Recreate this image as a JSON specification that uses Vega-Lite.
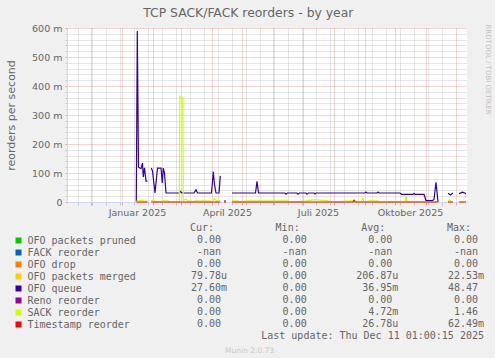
{
  "$schema": "https://vega.github.io/schema/vega-lite/v6.json",
  "background": "#F0F0F0",
  "padding": {"left": 5, "top": 6, "right": 4, "bottom": 4},
  "title": {"text": "TCP SACK/FACK reorders - by year", "font": "DejaVu Sans", "fontSize": 12.4, "fontWeight": "normal", "color": "#666666", "anchor": "middle", "offset": 4},
  "datasets": {
    "series": [
      {"date": "2025-01-15T07:00", "series": "OFO queue", "value": 0},
      {"date": "2025-01-16T07:00", "series": "OFO queue", "value": 0.59},
      {"date": "2025-01-17T12:00", "series": "OFO queue", "value": 0.12},
      {"date": "2025-01-20T00:00", "series": "OFO queue", "value": 0.115},
      {"date": "2025-01-21T12:00", "series": "OFO queue", "value": 0.134},
      {"date": "2025-01-22T07:00", "series": "OFO queue", "value": 0.086},
      {"date": "2025-01-23T12:00", "series": "OFO queue", "value": 0.118},
      {"date": "2025-01-25T00:00", "series": "OFO queue", "value": 0.072},
      {"date": "2025-01-26T12:00", "series": "OFO queue", "value": 0.072},
      {"date": "2025-01-28T07:00", "series": "OFO queue", "value": null},
      {"date": "2025-01-30T07:00", "series": "OFO queue", "value": 0.117},
      {"date": "2025-01-31T12:00", "series": "OFO queue", "value": 0.107},
      {"date": "2025-02-03T00:00", "series": "OFO queue", "value": 0.031},
      {"date": "2025-02-05T12:00", "series": "OFO queue", "value": 0.117},
      {"date": "2025-02-09T00:00", "series": "OFO queue", "value": 0.117},
      {"date": "2025-02-10T07:00", "series": "OFO queue", "value": 0.066},
      {"date": "2025-02-11T07:00", "series": "OFO queue", "value": 0.117},
      {"date": "2025-02-12T12:00", "series": "OFO queue", "value": 0.1},
      {"date": "2025-02-14T00:00", "series": "OFO queue", "value": 0.031},
      {"date": "2025-02-27T00:00", "series": "OFO queue", "value": 0.031},
      {"date": "2025-02-28T12:00", "series": "OFO queue", "value": 0.036},
      {"date": "2025-03-02T00:00", "series": "OFO queue", "value": 0.031},
      {"date": "2025-03-14T00:00", "series": "OFO queue", "value": 0.031},
      {"date": "2025-03-16T00:00", "series": "OFO queue", "value": 0.042},
      {"date": "2025-03-17T12:00", "series": "OFO queue", "value": 0.031},
      {"date": "2025-03-31T12:00", "series": "OFO queue", "value": 0.031},
      {"date": "2025-04-02T07:00", "series": "OFO queue", "value": 0.104},
      {"date": "2025-04-03T12:00", "series": "OFO queue", "value": 0.06},
      {"date": "2025-04-05T00:00", "series": "OFO queue", "value": 0.031},
      {"date": "2025-04-08T00:00", "series": "OFO queue", "value": 0.031},
      {"date": "2025-04-09T07:00", "series": "OFO queue", "value": 0.09},
      {"date": "2025-04-11T00:00", "series": "OFO queue", "value": null},
      {"date": "2025-04-13T00:00", "series": "OFO queue", "value": 0.003},
      {"date": "2025-04-15T00:00", "series": "OFO queue", "value": 0.003},
      {"date": "2025-04-17T00:00", "series": "OFO queue", "value": null},
      {"date": "2025-04-21T00:00", "series": "OFO queue", "value": 0.031},
      {"date": "2025-05-14T12:00", "series": "OFO queue", "value": 0.031},
      {"date": "2025-05-16T00:00", "series": "OFO queue", "value": 0.071},
      {"date": "2025-05-17T12:00", "series": "OFO queue", "value": 0.031},
      {"date": "2025-06-13T00:00", "series": "OFO queue", "value": 0.031},
      {"date": "2025-06-14T00:00", "series": "OFO queue", "value": 0.027},
      {"date": "2025-06-15T12:00", "series": "OFO queue", "value": 0.031},
      {"date": "2025-06-25T00:00", "series": "OFO queue", "value": 0.031},
      {"date": "2025-06-26T00:00", "series": "OFO queue", "value": 0.027},
      {"date": "2025-06-27T12:00", "series": "OFO queue", "value": 0.031},
      {"date": "2025-07-04T00:00", "series": "OFO queue", "value": 0.031},
      {"date": "2025-07-05T00:00", "series": "OFO queue", "value": 0.027},
      {"date": "2025-07-06T12:00", "series": "OFO queue", "value": 0.031},
      {"date": "2025-07-12T00:00", "series": "OFO queue", "value": 0.031},
      {"date": "2025-07-13T00:00", "series": "OFO queue", "value": 0.028},
      {"date": "2025-07-14T00:00", "series": "OFO queue", "value": 0.031},
      {"date": "2025-09-01T00:00", "series": "OFO queue", "value": 0.031},
      {"date": "2025-09-02T00:00", "series": "OFO queue", "value": 0.034},
      {"date": "2025-09-03T00:00", "series": "OFO queue", "value": 0.031},
      {"date": "2025-09-13T00:00", "series": "OFO queue", "value": 0.031},
      {"date": "2025-09-14T00:00", "series": "OFO queue", "value": 0.034},
      {"date": "2025-09-15T00:00", "series": "OFO queue", "value": 0.031},
      {"date": "2025-10-06T00:00", "series": "OFO queue", "value": 0.031},
      {"date": "2025-10-07T12:00", "series": "OFO queue", "value": 0.0265},
      {"date": "2025-10-19T00:00", "series": "OFO queue", "value": 0.0265},
      {"date": "2025-10-20T00:00", "series": "OFO queue", "value": 0.03},
      {"date": "2025-10-21T00:00", "series": "OFO queue", "value": 0.0265},
      {"date": "2025-10-30T00:00", "series": "OFO queue", "value": 0.0265},
      {"date": "2025-11-01T00:00", "series": "OFO queue", "value": 0.005},
      {"date": "2025-11-07T00:00", "series": "OFO queue", "value": 0.005},
      {"date": "2025-11-09T00:00", "series": "OFO queue", "value": 0.008},
      {"date": "2025-11-11T00:00", "series": "OFO queue", "value": 0.068},
      {"date": "2025-11-13T00:00", "series": "OFO queue", "value": 0},
      {"date": "2025-11-15T00:00", "series": "OFO queue", "value": null},
      {"date": "2025-11-23T00:00", "series": "OFO queue", "value": 0.03},
      {"date": "2025-11-25T12:00", "series": "OFO queue", "value": 0.024},
      {"date": "2025-11-28T00:00", "series": "OFO queue", "value": 0.031},
      {"date": "2025-11-30T00:00", "series": "OFO queue", "value": null},
      {"date": "2025-12-04T00:00", "series": "OFO queue", "value": 0.029},
      {"date": "2025-12-07T12:00", "series": "OFO queue", "value": 0.034},
      {"date": "2025-12-11T00:00", "series": "OFO queue", "value": 0.029},

      {"date": "2025-01-15T07:00", "series": "SACK reorder", "value": 0},
      {"date": "2025-01-16T07:00", "series": "SACK reorder", "value": 0.005},
      {"date": "2025-01-21T12:00", "series": "SACK reorder", "value": 0.006},
      {"date": "2025-01-22T12:00", "series": "SACK reorder", "value": 0.003},
      {"date": "2025-01-26T12:00", "series": "SACK reorder", "value": 0.003},
      {"date": "2025-01-28T07:00", "series": "SACK reorder", "value": null},
      {"date": "2025-01-30T07:00", "series": "SACK reorder", "value": 0.003},
      {"date": "2025-02-01T00:00", "series": "SACK reorder", "value": 0.008},
      {"date": "2025-02-03T00:00", "series": "SACK reorder", "value": 0.003},
      {"date": "2025-02-08T00:00", "series": "SACK reorder", "value": 0},
      {"date": "2025-02-10T00:00", "series": "SACK reorder", "value": 0.004},
      {"date": "2025-02-16T00:00", "series": "SACK reorder", "value": 0.004},
      {"date": "2025-02-17T00:00", "series": "SACK reorder", "value": 0},
      {"date": "2025-02-27T07:00", "series": "SACK reorder", "value": 0},
      {"date": "2025-02-27T19:00", "series": "SACK reorder", "value": 0.364},
      {"date": "2025-03-01T12:00", "series": "SACK reorder", "value": 0.355},
      {"date": "2025-03-02T17:00", "series": "SACK reorder", "value": 0.36},
      {"date": "2025-03-03T07:00", "series": "SACK reorder", "value": 0.005},
      {"date": "2025-03-06T00:00", "series": "SACK reorder", "value": 0.01},
      {"date": "2025-03-08T00:00", "series": "SACK reorder", "value": 0.003},
      {"date": "2025-03-12T00:00", "series": "SACK reorder", "value": 0.003},
      {"date": "2025-03-14T00:00", "series": "SACK reorder", "value": 0},
      {"date": "2025-03-15T00:00", "series": "SACK reorder", "value": 0.004},
      {"date": "2025-03-30T00:00", "series": "SACK reorder", "value": 0.004},
      {"date": "2025-03-31T00:00", "series": "SACK reorder", "value": 0},
      {"date": "2025-04-02T00:00", "series": "SACK reorder", "value": 0.004},
      {"date": "2025-04-03T12:00", "series": "SACK reorder", "value": 0.013},
      {"date": "2025-04-05T00:00", "series": "SACK reorder", "value": 0.004},
      {"date": "2025-04-09T07:00", "series": "SACK reorder", "value": 0.004},
      {"date": "2025-04-11T00:00", "series": "SACK reorder", "value": null},
      {"date": "2025-04-13T00:00", "series": "SACK reorder", "value": 0},
      {"date": "2025-04-15T00:00", "series": "SACK reorder", "value": 0},
      {"date": "2025-04-17T00:00", "series": "SACK reorder", "value": null},
      {"date": "2025-04-21T00:00", "series": "SACK reorder", "value": 0.004},
      {"date": "2025-04-27T00:00", "series": "SACK reorder", "value": 0.004},
      {"date": "2025-04-28T00:00", "series": "SACK reorder", "value": 0},
      {"date": "2025-05-06T00:00", "series": "SACK reorder", "value": 0.004},
      {"date": "2025-06-16T00:00", "series": "SACK reorder", "value": 0.004},
      {"date": "2025-06-17T00:00", "series": "SACK reorder", "value": 0},
      {"date": "2025-07-05T00:00", "series": "SACK reorder", "value": 0.004},
      {"date": "2025-07-13T00:00", "series": "SACK reorder", "value": 0.008},
      {"date": "2025-07-26T00:00", "series": "SACK reorder", "value": 0.004},
      {"date": "2025-07-27T00:00", "series": "SACK reorder", "value": 0},
      {"date": "2025-08-18T00:00", "series": "SACK reorder", "value": 0.004},
      {"date": "2025-08-23T00:00", "series": "SACK reorder", "value": 0.004},
      {"date": "2025-08-24T00:00", "series": "SACK reorder", "value": 0},
      {"date": "2025-08-28T00:00", "series": "SACK reorder", "value": 0},
      {"date": "2025-08-29T17:00", "series": "SACK reorder", "value": 0.014},
      {"date": "2025-08-31T00:00", "series": "SACK reorder", "value": 0},
      {"date": "2025-09-05T00:00", "series": "SACK reorder", "value": 0.004},
      {"date": "2025-09-14T00:00", "series": "SACK reorder", "value": 0.004},
      {"date": "2025-09-15T00:00", "series": "SACK reorder", "value": 0},
      {"date": "2025-10-11T00:00", "series": "SACK reorder", "value": 0},
      {"date": "2025-10-12T00:00", "series": "SACK reorder", "value": 0.02},
      {"date": "2025-10-13T00:00", "series": "SACK reorder", "value": 0},
      {"date": "2025-11-13T00:00", "series": "SACK reorder", "value": 0},
      {"date": "2025-11-15T00:00", "series": "SACK reorder", "value": null},
      {"date": "2025-11-23T00:00", "series": "SACK reorder", "value": 0},
      {"date": "2025-11-24T12:00", "series": "SACK reorder", "value": 0.008},
      {"date": "2025-11-26T00:00", "series": "SACK reorder", "value": 0},
      {"date": "2025-11-28T00:00", "series": "SACK reorder", "value": 0},
      {"date": "2025-11-30T00:00", "series": "SACK reorder", "value": null},
      {"date": "2025-12-04T00:00", "series": "SACK reorder", "value": 0},
      {"date": "2025-12-11T00:00", "series": "SACK reorder", "value": 0},

      {"date": "2025-01-15T07:00", "series": "Timestamp reorder", "value": 0},
      {"date": "2025-01-26T12:00", "series": "Timestamp reorder", "value": 0},
      {"date": "2025-01-28T07:00", "series": "Timestamp reorder", "value": null},
      {"date": "2025-01-30T07:00", "series": "Timestamp reorder", "value": 0},
      {"date": "2025-04-09T07:00", "series": "Timestamp reorder", "value": 0},
      {"date": "2025-04-11T00:00", "series": "Timestamp reorder", "value": null},
      {"date": "2025-04-13T00:00", "series": "Timestamp reorder", "value": 0},
      {"date": "2025-04-15T00:00", "series": "Timestamp reorder", "value": 0},
      {"date": "2025-04-17T00:00", "series": "Timestamp reorder", "value": null},
      {"date": "2025-04-21T00:00", "series": "Timestamp reorder", "value": 0},
      {"date": "2025-08-20T00:00", "series": "Timestamp reorder", "value": 0},
      {"date": "2025-08-21T00:00", "series": "Timestamp reorder", "value": 0.006},
      {"date": "2025-08-22T00:00", "series": "Timestamp reorder", "value": 0},
      {"date": "2025-11-13T00:00", "series": "Timestamp reorder", "value": 0},
      {"date": "2025-11-15T00:00", "series": "Timestamp reorder", "value": null},
      {"date": "2025-11-23T00:00", "series": "Timestamp reorder", "value": 0},
      {"date": "2025-11-28T00:00", "series": "Timestamp reorder", "value": 0},
      {"date": "2025-11-30T00:00", "series": "Timestamp reorder", "value": null},
      {"date": "2025-12-04T00:00", "series": "Timestamp reorder", "value": 0},
      {"date": "2025-12-11T00:00", "series": "Timestamp reorder", "value": 0}
    ],
    "table": [
      {"key": "hdr", "col": "cur", "num": "Cur:", "unit": ""},
      {"key": "hdr", "col": "min", "num": "Min:", "unit": ""},
      {"key": "hdr", "col": "avg", "num": "Avg:", "unit": ""},
      {"key": "hdr", "col": "max", "num": "Max:", "unit": ""},
      {"key": "OFO packets pruned", "col": "cur", "num": "0.00", "unit": ""},
      {"key": "OFO packets pruned", "col": "min", "num": "0.00", "unit": ""},
      {"key": "OFO packets pruned", "col": "avg", "num": "0.00", "unit": ""},
      {"key": "OFO packets pruned", "col": "max", "num": "0.00", "unit": ""},
      {"key": "FACK reorder", "col": "cur", "num": "-nan", "unit": ""},
      {"key": "FACK reorder", "col": "min", "num": "-nan", "unit": ""},
      {"key": "FACK reorder", "col": "avg", "num": "-nan", "unit": ""},
      {"key": "FACK reorder", "col": "max", "num": "-nan", "unit": ""},
      {"key": "OFO drop", "col": "cur", "num": "0.00", "unit": ""},
      {"key": "OFO drop", "col": "min", "num": "0.00", "unit": ""},
      {"key": "OFO drop", "col": "avg", "num": "0.00", "unit": ""},
      {"key": "OFO drop", "col": "max", "num": "0.00", "unit": ""},
      {"key": "OFO packets merged", "col": "cur", "num": "79.78", "unit": "u"},
      {"key": "OFO packets merged", "col": "min", "num": "0.00", "unit": ""},
      {"key": "OFO packets merged", "col": "avg", "num": "206.87", "unit": "u"},
      {"key": "OFO packets merged", "col": "max", "num": "22.53", "unit": "m"},
      {"key": "OFO queue", "col": "cur", "num": "27.60", "unit": "m"},
      {"key": "OFO queue", "col": "min", "num": "0.00", "unit": ""},
      {"key": "OFO queue", "col": "avg", "num": "36.95", "unit": "m"},
      {"key": "OFO queue", "col": "max", "num": "48.47", "unit": ""},
      {"key": "Reno reorder", "col": "cur", "num": "0.00", "unit": ""},
      {"key": "Reno reorder", "col": "min", "num": "0.00", "unit": ""},
      {"key": "Reno reorder", "col": "avg", "num": "0.00", "unit": ""},
      {"key": "Reno reorder", "col": "max", "num": "0.00", "unit": ""},
      {"key": "SACK reorder", "col": "cur", "num": "0.00", "unit": ""},
      {"key": "SACK reorder", "col": "min", "num": "0.00", "unit": ""},
      {"key": "SACK reorder", "col": "avg", "num": "4.72", "unit": "m"},
      {"key": "SACK reorder", "col": "max", "num": "1.46", "unit": ""},
      {"key": "Timestamp reorder", "col": "cur", "num": "0.00", "unit": ""},
      {"key": "Timestamp reorder", "col": "min", "num": "0.00", "unit": ""},
      {"key": "Timestamp reorder", "col": "avg", "num": "26.78", "unit": "u"},
      {"key": "Timestamp reorder", "col": "max", "num": "62.49", "unit": "m"},
      {"key": "upd", "col": "max", "num": "Last update: Thu Dec 11 01:00:15 2025", "unit": ""}
    ]
  },
  "vconcat": [
    {
      "width": 400,
      "height": 174,
      "view": {"fill": "#FFFFFF", "stroke": null},
      "data": {"name": "series"},
      "resolve": {"axis": {"y": "independent"}},
      "encoding": {
        "x": {
          "field": "date", "type": "temporal",
          "scale": {"domain": [{"year": 2024, "month": 11, "date": 7}, {"year": 2025, "month": 12, "date": 12}], "nice": false},
          "axis": {
            "title": null,
            "values": {"expr": "[datetime(2024,10,18), datetime(2024,11,2), datetime(2024,11,16), datetime(2024,11,30), datetime(2025,0,13), datetime(2025,0,27), datetime(2025,1,10), datetime(2025,1,24), datetime(2025,2,10), datetime(2025,2,24), datetime(2025,3,7), datetime(2025,3,21), datetime(2025,4,5), datetime(2025,4,19), datetime(2025,5,2), datetime(2025,5,16), datetime(2025,5,30), datetime(2025,6,14), datetime(2025,6,28), datetime(2025,7,11), datetime(2025,7,25), datetime(2025,8,8), datetime(2025,8,22), datetime(2025,9,6), datetime(2025,9,20), datetime(2025,10,3), datetime(2025,10,17), datetime(2024,11,1), datetime(2025,0,1), datetime(2025,1,1), datetime(2025,2,1), datetime(2025,3,1), datetime(2025,4,1), datetime(2025,5,1), datetime(2025,6,1), datetime(2025,7,1), datetime(2025,8,1), datetime(2025,9,1), datetime(2025,10,1), datetime(2025,11,1)]"},
            "grid": true,
            "gridDash": [1, 1],
            "gridColor": {"condition": {"test": "date(datum.value) == 1", "value": "rgba(222,79,79,0.5)"}, "value": "rgba(143,143,143,0.45)"},
            "tickColor": {"condition": {"test": "date(datum.value) == 1", "value": "rgba(222,79,79,0.5)"}, "value": "rgba(143,143,143,0.45)"},
            "tickSize": 3,
            "domainColor": "#CFD6F8",
            "labelExpr": "date(datum.value) != 1 ? '' : month(datum.value) == 0 ? 'Januar ' + year(datum.value) : month(datum.value) == 3 ? 'April ' + year(datum.value) : month(datum.value) == 6 ? 'Juli ' + year(datum.value) : month(datum.value) == 9 ? 'Oktober ' + year(datum.value) : ''",
            "labelOffset": 15,
            "labelPadding": 2,
            "labelFontSize": 9.5,
            "labelOverlap": false,
            "labelFlush": false,
            "labelBound": false
          }
        }
      },
      "layer": [
        {
          "transform": [{"filter": "datum.series == 'OFO queue'"}],
          "mark": {"type": "line", "color": "#330099", "strokeWidth": 1.2, "invalid": "break-paths-filter-domains"},
          "encoding": {
            "y": {
              "field": "value", "type": "quantitative",
              "scale": {"domain": [0, 0.6], "nice": false},
              "axis": {
                "title": "reorders per second",
                "titleFontSize": 11,
                "titlePadding": 15,
                "values": [0, 0.02, 0.04, 0.06, 0.08, 0.1, 0.12, 0.14, 0.16, 0.18, 0.2, 0.22, 0.24, 0.26, 0.28, 0.3, 0.32, 0.34, 0.36, 0.38, 0.4, 0.42, 0.44, 0.46, 0.48, 0.5, 0.52, 0.54, 0.56, 0.58, 0.6],
                "grid": true,
                "gridDash": [1, 1],
                "gridColor": {"condition": {"test": "round(datum.value * 1000) % 100 == 0", "value": "rgba(222,79,79,0.5)"}, "value": "rgba(143,143,143,0.45)"},
                "tickColor": {"condition": {"test": "round(datum.value * 1000) % 100 == 0", "value": "rgba(222,79,79,0.5)"}, "value": "rgba(143,143,143,0.45)"},
                "tickSize": 2,
                "domainColor": "#CFD6F8",
                "labelExpr": "round(datum.value * 1000) % 100 == 0 ? (datum.value == 0 ? '0' : round(datum.value * 1000) + ' m') : ''",
                "labelFontSize": 9.5,
                "labelPadding": 3,
                "labelOverlap": false,
                "labelFlush": false,
                "labelBound": false
              }
            }
          }
        },
        {
          "transform": [{"filter": "datum.series == 'SACK reorder'"}],
          "mark": {"type": "line", "color": "#CCFF00", "strokeWidth": 1.2, "invalid": "break-paths-filter-domains"},
          "encoding": {
            "y": {
              "field": "value", "type": "quantitative",
              "axis": {
                "orient": "right",
                "title": "RRDTOOL / TOBI OETIKER",
                "titleAngle": 90,
                "titleFontSize": 7,
                "titleColor": "#C0C0C0",
                "titleAlign": "left",
                "titleY": -4,
                "titlePadding": 17,
                "labels": false,
                "ticks": false,
                "domain": false,
                "grid": false
              }
            }
          }
        },
        {
          "transform": [{"filter": "datum.series == 'Timestamp reorder'"}],
          "mark": {"type": "line", "color": "#FF0000", "strokeWidth": 1.2, "invalid": "break-paths-filter-domains"},
          "encoding": {
            "y": {"field": "value", "type": "quantitative", "axis": null}
          }
        }
      ]
    },
    {
      "width": 411,
      "height": 108,
      "data": {"name": "table"},
      "encoding": {
        "x": {
          "field": "col", "type": "nominal",
          "scale": {"type": "point", "domain": ["cur", "min", "avg", "max"], "padding": 0.899, "align": 1},
          "axis": {
            "title": "Munin 2.0.73",
            "labels": false, "ticks": false, "domain": false, "grid": false,
            "titleX": 182, "titleY": 14, "titleBaseline": "middle", "titleAlign": "center",
            "titleFontSize": 7.5, "titleColor": "#C8C8C8"
          }
        },
        "y": {
          "field": "key", "type": "nominal",
          "scale": {"type": "point", "padding": 0, "domain": ["hdr", "OFO packets pruned", "FACK reorder", "OFO drop", "OFO packets merged", "OFO queue", "Reno reorder", "SACK reorder", "Timestamp reorder", "upd"]},
          "axis": {
            "title": null, "grid": false, "domain": false,
            "offset": 46,
            "ticks": true, "tickSize": 6, "tickWidth": 6,
            "tickColor": {"condition": [
              {"test": "datum.value == 'OFO packets pruned'", "value": "#00CC00"},
              {"test": "datum.value == 'FACK reorder'", "value": "#0066B3"},
              {"test": "datum.value == 'OFO drop'", "value": "#FF8000"},
              {"test": "datum.value == 'OFO packets merged'", "value": "#FFCC00"},
              {"test": "datum.value == 'OFO queue'", "value": "#330099"},
              {"test": "datum.value == 'Reno reorder'", "value": "#990099"},
              {"test": "datum.value == 'SACK reorder'", "value": "#CCFF00"},
              {"test": "datum.value == 'Timestamp reorder'", "value": "#FF0000"}
            ], "value": "rgba(0,0,0,0)"},
            "labelExpr": "datum.value == 'hdr' || datum.value == 'upd' ? '' : datum.value",
            "labelAlign": "left",
            "labelPadding": -12,
            "labelFont": "DejaVu Sans Mono",
            "labelFontSize": 10,
            "labelColor": "#666666",
            "labelOverlap": false,
            "labelFlush": false,
            "labelBound": false
          }
        }
      },
      "layer": [
        {
          "transform": [{"filter": "datum.key != 'hdr' && datum.key != 'upd'"}],
          "mark": {"type": "text", "align": "right", "baseline": "middle", "font": "DejaVu Sans Mono", "fontSize": 10, "color": "#666666"},
          "encoding": {"text": {"field": "num"}}
        },
        {
          "transform": [{"filter": "datum.key != 'hdr' && datum.key != 'upd' && datum.unit != ''"}],
          "mark": {"type": "text", "align": "left", "baseline": "middle", "font": "DejaVu Sans Mono", "fontSize": 10, "color": "#666666"},
          "encoding": {"text": {"field": "unit"}}
        },
        {
          "transform": [{"filter": "datum.key == 'hdr'"}],
          "mark": {"type": "text", "align": "right", "baseline": "middle", "dx": -7, "font": "DejaVu Sans Mono", "fontSize": 10, "color": "#666666"},
          "encoding": {"text": {"field": "num"}}
        },
        {
          "transform": [{"filter": "datum.key == 'upd'"}],
          "mark": {"type": "text", "align": "right", "baseline": "middle", "dx": 6, "font": "DejaVu Sans Mono", "fontSize": 10, "color": "#666666"},
          "encoding": {"text": {"field": "num"}}
        }
      ]
    }
  ],
  "spacing": 6,
  "config": {
    "view": {"stroke": null},
    "axis": {"labelFont": "DejaVu Sans", "titleFont": "DejaVu Sans", "titleFontWeight": "normal", "labelColor": "#666666", "titleColor": "#666666"}
  }
}
